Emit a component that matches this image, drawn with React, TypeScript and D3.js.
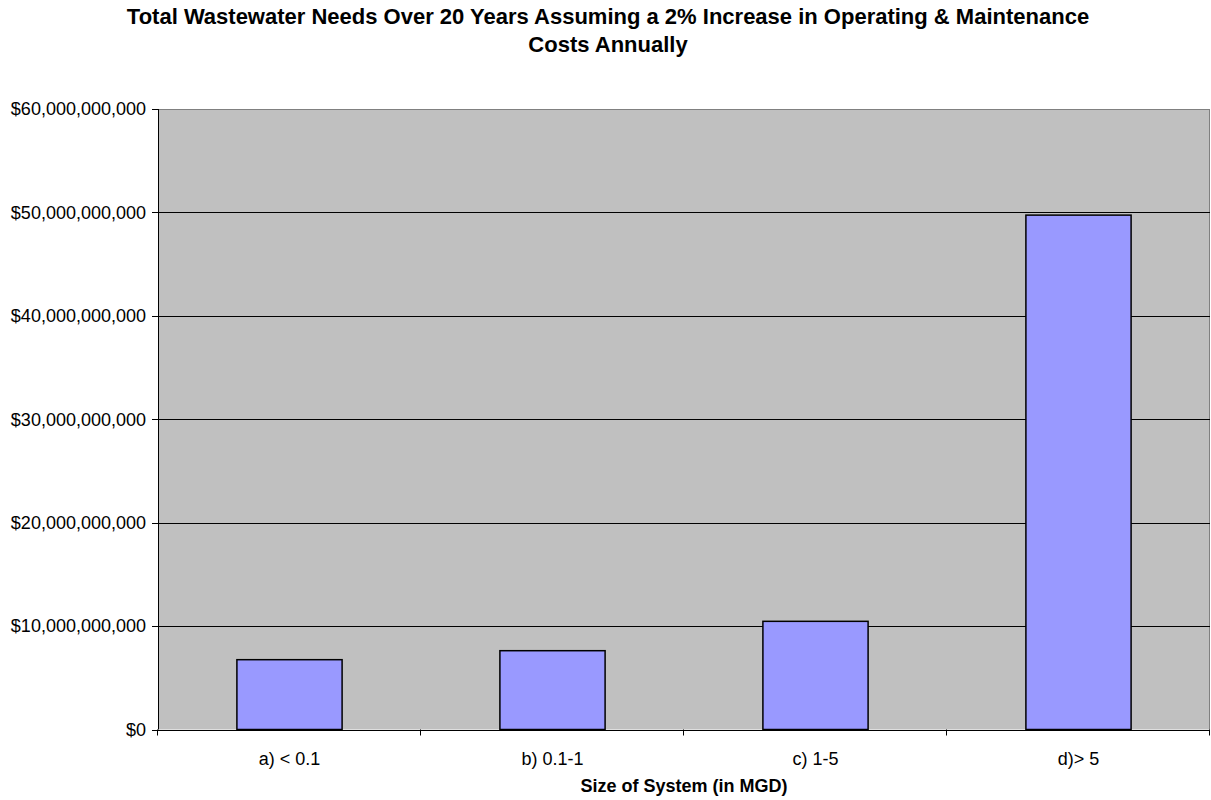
import React from "react";
import * as d3 from "d3";

const categories = ["a) < 0.1", "b) 0.1-1", "c) 1-5", "d)> 5"];
const totals = [6.75e9, 7.62e9, 10.46e9, 49.74e9];
const yTicks = [0, 10e9, 20e9, 30e9, 40e9, 50e9, 60e9];
const titleLines = [
  "Total Wastewater Needs Over 20 Years Assuming a 2% Increase in Operating & Maintenance",
  "Costs Annually",
];
const xTitle = "Size of System (in MGD)";

const W = 1211;
const H = 800;
const margin = { left: 158, right: 1, top: 109, bottom: 70.5 };
const FONT = "Arial, 'Liberation Sans', Helvetica, sans-serif";

export default function App() {
  const x0 = margin.left;
  const x1 = W - margin.right;
  const y0 = H - margin.bottom;
  const y1 = margin.top;

  const x = d3.scaleBand<string>().domain(categories).range([x0, x1]).paddingInner(0.6).paddingOuter(0.3);
  const band = d3.scaleBand<string>().domain(categories).range([x0, x1]).padding(0);
  const y = d3.scaleLinear().domain([0, 60e9]).range([y0, y1]);
  const fmt = (v: number) => "$" + d3.format(",")(v);

  const catEdges = categories.map((c) => band(c) as number).concat([x1]);

  return (
    <svg
      width={W}
      height={H}
      style={{ position: "fixed", left: 0, top: 0, display: "block", background: "#fff" }}
      fontFamily={FONT}
    >
      {titleLines.map((t, i) => (
        <text key={i} x={608} y={24 + i * 28} textAnchor="middle" fontSize={22} fontWeight="bold" fill="#000">
          {t}
        </text>
      ))}

      <rect x={x0} y={y1} width={x1 - x0} height={y0 - y1} fill="#c0c0c0" />
      <line x1={x0} x2={x1} y1={y1 + 0.5} y2={y1 + 0.5} stroke="#808080" />
      <line x1={x1 - 0.5} x2={x1 - 0.5} y1={y1} y2={y0} stroke="#808080" />

      {yTicks.slice(1, -1).map((t) => (
        <line key={t} x1={x0} x2={x1} y1={Math.round(y(t)) + 0.5} y2={Math.round(y(t)) + 0.5} stroke="#000" strokeWidth={1} />
      ))}

      {categories.map((c, i) => (
        <rect
          key={c}
          x={x(c)}
          y={y(totals[i])}
          width={x.bandwidth()}
          height={y0 - y(totals[i])}
          fill="#9999ff"
          stroke="#000"
          strokeWidth={1.5}
        />
      ))}

      {/* y axis */}
      <line x1={x0 + 0.5} x2={x0 + 0.5} y1={y1} y2={y0} stroke="#000" />
      {yTicks.map((t) => (
        <g key={t}>
          <line x1={x0 - 6} x2={x0} y1={Math.round(y(t)) + 0.5} y2={Math.round(y(t)) + 0.5} stroke="#000" />
          <text x={x0 - 12} y={y(t)} dy="0.35em" textAnchor="end" fontSize={18} fill="#000">
            {fmt(t)}
          </text>
        </g>
      ))}

      {/* x axis */}
      <line x1={x0} x2={x1} y1={Math.round(y0) + 0.5} y2={Math.round(y0) + 0.5} stroke="#000" />
      {catEdges.map((e, i) => (
        <line key={i} x1={Math.round(e) - 0.5} x2={Math.round(e) - 0.5} y1={y0} y2={y0 + 6} stroke="#000" />
      ))}
      {categories.map((c) => (
        <text key={c} x={(band(c) as number) + band.bandwidth() / 2} y={y0 + 35} textAnchor="middle" fontSize={18} fill="#000">
          {c}
        </text>
      ))}
      <text x={(x0 + x1) / 2} y={y0 + 62} textAnchor="middle" fontSize={18} fontWeight="bold" fill="#000">
        {xTitle}
      </text>
    </svg>
  );
}
